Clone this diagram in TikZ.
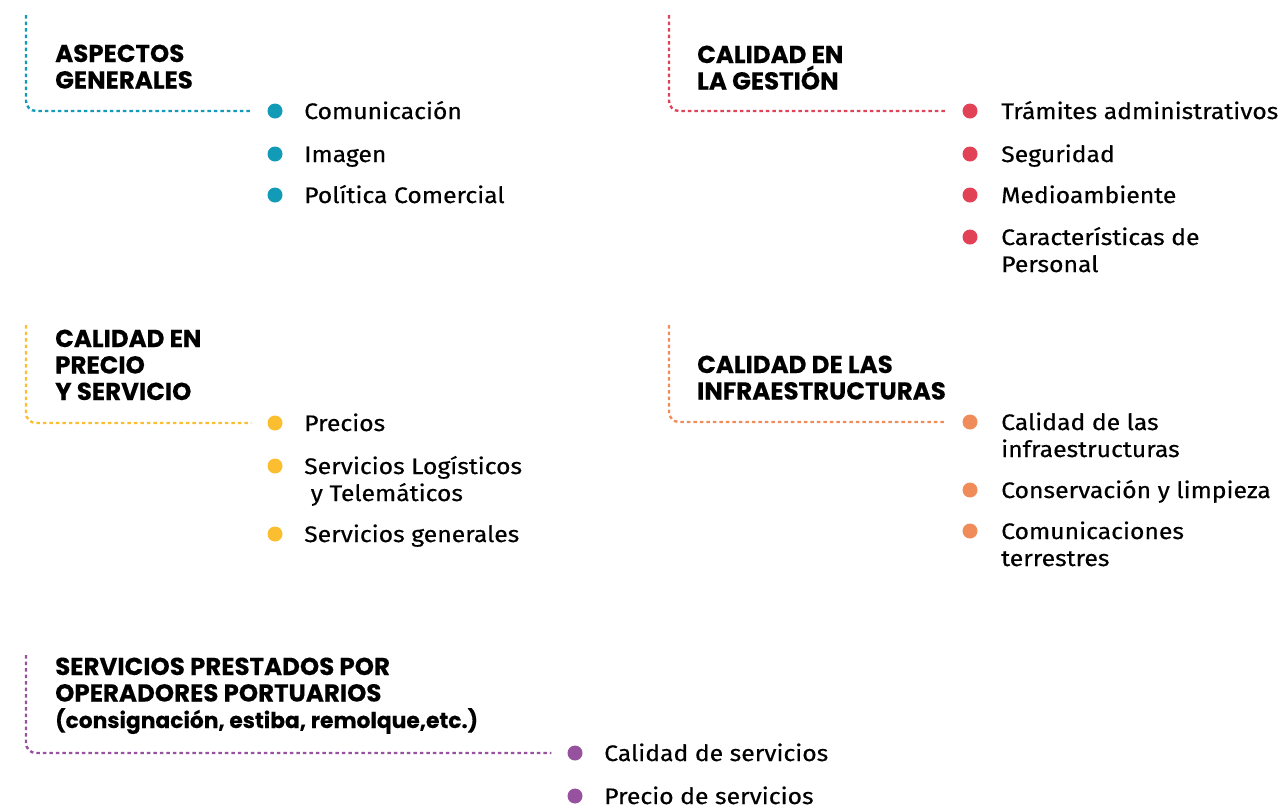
\documentclass[tikz,border=0pt]{standalone}
\usepackage{fontspec}
\setmainfont{Fira Sans}[FakeStretch=1.1, FakeBold=0.4]
\newfontfamily\headfont{Poppins}[UprightFont=* Bold, FakeBold=0.3]
\definecolor{cteal}{HTML}{119BB7}
\definecolor{cred}{HTML}{E24255}
\definecolor{cyellow}{HTML}{FBBE30}
\definecolor{corange}{HTML}{F08C5A}
\definecolor{cpurple}{HTML}{96529E}
\tikzset{
  heading/.style={anchor=base west, inner sep=0pt, align=left,
    font=\headfont\fontsize{24.5}{26.5}\selectfont, text=black},
  item/.style={anchor=base west, inner sep=0pt, align=left,
    font=\fontsize{22.5}{27}\selectfont, text=black},
  bullet/.style={circle, inner sep=0pt, minimum size=15pt, fill=#1},
  conn/.style={draw=#1, line width=2.4pt, dash pattern=on 3.5pt off 3pt, rounded corners=10pt}
}
\begin{document}
\begin{tikzpicture}[x=1pt,y=-1pt]
\useasboundingbox (0,0) rectangle (1281,807);
% ---------- Block 1: Aspectos generales
\node[heading] (h1) at (55,88.5) {ASPECTOS\\GENERALES};
\node[bullet=cteal] (b11) at (275,111) {};
\node[bullet=cteal] (b12) at (275,154) {};
\node[bullet=cteal] (b13) at (275,195) {};
\node[item] (t11) at (304,119) {Comunicación};
\node[item] (t12) at (304,162) {Imagen};
\node[item] (t13) at (304,203) {Política Comercial};
\coordinate (s1) at (26,15);
\coordinate (e1) at ([xshift=-16pt]b11.west);
\draw[conn=cteal] (s1) |- (e1);
% ---------- Block 2: Calidad en la gestion
\node[heading] (h2) at (697,89.5) {CALIDAD EN\\LA GESTIÓN};
\node[bullet=cred] (b21) at (970,111) {};
\node[bullet=cred] (b22) at (970,154) {};
\node[bullet=cred] (b23) at (970,195) {};
\node[bullet=cred] (b24) at (970,237) {};
\node[item] (t21) at (1001,119) {Trámites administrativos};
\node[item] (t22) at (1001,162) {Seguridad};
\node[item] (t23) at (1001,203) {Medioambiente};
\node[item] (t24) at (1001,272) {Características de\\Personal};
\coordinate (s2) at (669,15);
\coordinate (e2) at ([xshift=-16pt]b21.west);
\draw[conn=cred] (s2) |- (e2);
% ---------- Block 3: Calidad en precio y servicio
\node[heading] (h3) at (55,400) {CALIDAD EN\\PRECIO\\Y SERVICIO};
\node[bullet=cyellow] (b31) at (275,423) {};
\node[bullet=cyellow] (b32) at (275,466) {};
\node[bullet=cyellow] (b33) at (275,534) {};
\node[item] (t31) at (304,431) {Precios};
\node[item] (t32) at (304,501) {Servicios Logísticos\\\ y Telemáticos};
\node[item] (t33) at (304,542) {Servicios generales};
\coordinate (s3) at (26,325);
\coordinate (e3) at ([xshift=-16pt]b31.west);
\draw[conn=cyellow] (s3) |- (e3);
% ---------- Block 4: Calidad de las infraestructuras
\node[heading] (h4) at (697,399.5) {CALIDAD DE LAS\\INFRAESTRUCTURAS};
\node[bullet=corange] (b41) at (970,422) {};
\node[bullet=corange] (b42) at (970,490) {};
\node[bullet=corange] (b43) at (970,531) {};
\node[item] (t41) at (1001,457) {Calidad de las\\infraestructuras};
\node[item] (t42) at (1001,498) {Conservación y limpieza};
\node[item] (t43) at (1001,566) {Comunicaciones\\terrestres};
\coordinate (s4) at (669,325);
\coordinate (e4) at ([xshift=-16pt]b41.west);
\draw[conn=corange] (s4) |- (e4);
% ---------- Block 5: Servicios prestados por operadores portuarios
\node[heading] (h5) at (55,728) {SERVICIOS PRESTADOS POR\\OPERADORES PORTUARIOS\\{\fontsize{21.8}{26.5}\selectfont(consignación, estiba, remolque,etc.)}};
\node[bullet=cpurple] (b51) at (575,753) {};
\node[bullet=cpurple] (b52) at (575,796) {};
\node[item] (t51) at (604,761) {Calidad de servicios};
\node[item] (t52) at (604,804) {Precio de servicios};
\coordinate (s5) at (26,655);
\coordinate (e5) at ([xshift=-16pt]b51.west);
\draw[conn=cpurple] (s5) |- (e5);
\end{tikzpicture}
\end{document}
